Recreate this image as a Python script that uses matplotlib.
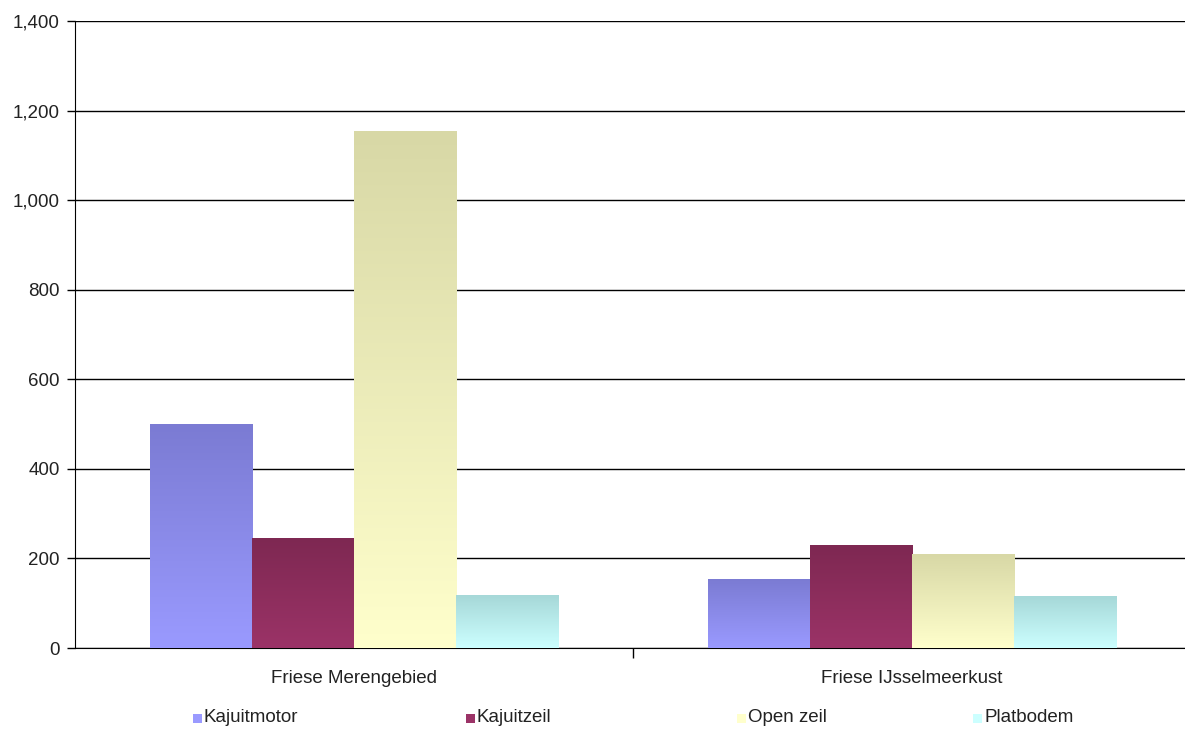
import numpy as np
import matplotlib.pyplot as plt
from matplotlib.colors import LinearSegmentedColormap
from matplotlib.patches import Rectangle

plt.rcParams['font.family'] = ['Liberation Sans', 'DejaVu Sans']

categories = ["Friese Merengebied", "Friese IJsselmeerkust"]
series = ["Kajuitmotor", "Kajuitzeil", "Open zeil", "Platbodem"]
kajuitmotor = [500, 153]
kajuitzeil = [245, 229]
open_zeil = [1153, 209]
platbodem = [118, 116]
values = [kajuitmotor, kajuitzeil, open_zeil, platbodem]

# (top colour, bottom colour) for the vertical gradient of each series
grad_colors = [("#7b7bd3", "#9a9aff"),
               ("#7e2852", "#9b3367"),
               ("#d8d8a6", "#ffffcc"),
               ("#a6d8d8", "#ccffff")]
legend_x = [0.1625, 0.3935, 0.622, 0.8215]

fig = plt.figure(figsize=(11.85, 7.31), dpi=100)
ax = fig.add_axes([0.0633, 0.1135, 0.9418, 0.8577])

x = np.arange(len(categories))
w = 0.183
for i, (name, vals) in enumerate(zip(series, values)):
    bars = ax.bar(x + (i - 1.5) * w, vals, w, color='none', zorder=3)
    cmap = LinearSegmentedColormap.from_list(name, [grad_colors[i][1], grad_colors[i][0]])
    grad = np.linspace(0, 1, 256).reshape(-1, 1)
    for b in bars:
        x0, y0 = b.get_x(), b.get_y()
        ax.imshow(grad, cmap=cmap, origin='lower', aspect='auto',
                  extent=(x0, x0 + b.get_width(), y0, y0 + b.get_height()), zorder=3)

ax.set_xlim(-0.5, 1.5)
ax.set_ylim(0, 1400)
ax.set_yticks(np.arange(0, 1401, 200))
ax.yaxis.set_major_formatter(plt.FuncFormatter(lambda v, p: f"{int(v):,}"))
ax.grid(axis='y', color='black', lw=1, zorder=1)
ax.set_xticks(x)
ax.set_xticklabels(categories)
ax.set_xticks([0.5], minor=True)
ax.tick_params(axis='x', which='major', length=0, pad=16, labelsize=13.5, labelcolor='#222222')
ax.tick_params(axis='x', which='minor', length=7, color='black', width=1)
ax.tick_params(axis='y', length=6, pad=5, color='black', width=1, labelsize=13.5, labelcolor='#222222')
for s in ['top', 'right']:
    ax.spines[s].set_visible(False)
ax.spines['left'].set_color('black')
ax.spines['bottom'].set_color('black')

for i, name in enumerate(series):
    fig.patches.append(Rectangle((legend_x[i], 0.0115), 0.0076, 0.0123,
                                 transform=fig.transFigure, facecolor=grad_colors[i][1],
                                 edgecolor='none'))
    fig.text(legend_x[i] + 0.009, 0.0178, name, fontsize=13.5, va='center', color='#222222')

fig.savefig("out.png", dpi=100)
